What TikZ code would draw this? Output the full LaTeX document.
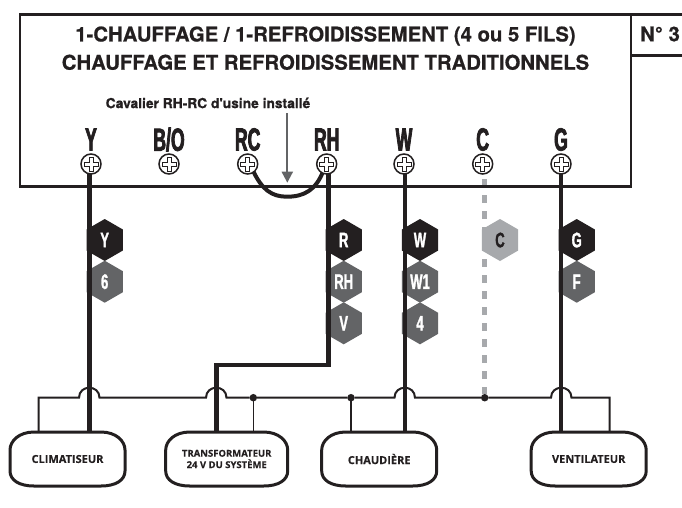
\documentclass[tikz,border=0pt]{standalone}
\usepackage{fontspec}
\setmainfont{TeX Gyre Heros}
\newfontfamily\helv[BoldFeatures={FakeBold=0.6}]{TeX Gyre Heros}
\newfontfamily\tcond[FakeStretch=0.55,FakeBold=2.4]{Liberation Sans Bold}
\newfontfamily\hcond[FakeStretch=0.62,FakeBold=1.4]{Liberation Sans Bold}
\newfontfamily\unitf[BoldFeatures={FakeBold=0.3}]{Open Sans}
\usetikzlibrary{shapes.geometric,calc,arrows.meta}
\definecolor{ink}{HTML}{231F20}
\definecolor{midgrey}{HTML}{636466}
\definecolor{lightgrey}{HTML}{A7A9AC}
\newcommand{\bolabel}{B/O}
\pgfdeclarelayer{hexes}
\pgfdeclarelayer{wires}
\pgfsetlayers{hexes,wires,main}
\tikzset{
  frame/.style={draw=ink,line width=2.4pt},
  wire/.style={draw=ink,line width=4.6pt,line join=miter},
  cwire/.style={draw=lightgrey,line width=5.2pt,dash pattern=on 7.5pt off 8.5pt},
  jumper/.style={draw=ink,line width=4pt},
  bus/.style={draw=ink,line width=2pt},
  branch/.style={draw=ink,line width=1.6pt},
  junction/.style={circle,fill=ink,minimum size=7.5pt,inner sep=0pt,outer sep=0pt},
  hexa/.style={regular polygon,regular polygon sides=6,shape border rotate=30,minimum size=42pt,inner sep=0pt,outer sep=0pt,text=white,font=\hcond\fontsize{21}{21}\selectfont},
  hexblack/.style={hexa,fill=ink},
  hexgrey/.style={hexa,fill=midgrey},
  hexlight/.style={hexa,fill=lightgrey,text=ink},
  screw/.style={circle,draw=ink,line width=1.5pt,fill=white,minimum size=20pt,inner sep=0pt,outer sep=0pt,
    path picture={\draw[ink,line width=.55pt] (path picture bounding box.center)
      +(-2,-7)--+(2,-7)--+(2,-2)--+(7,-2)--+(7,2)--+(2,2)--+(2,7)--+(-2,7)--+(-2,2)--+(-7,2)--+(-7,-2)--+(-2,-2)--cycle;}},
  termlabel/.style={text=ink,font=\tcond\fontsize{32}{32}\selectfont,inner sep=0pt},
  titletext/.style={text=ink,font=\helv\bfseries\fontsize{20.3}{20.3}\selectfont,inner sep=0pt},
  unitnode/.style={minimum height=54pt,inner sep=0pt,outer sep=0pt,align=center,text=ink,font=\unitf\bfseries\fontsize{11}{12}\selectfont},
}
\newcommand{\unitoutline}[1]{%
  \draw[draw=ink,line width=3pt]
    ($(#1.north west)+(24,0)$) -- ($(#1.north east)+(-24,0)$)
    .. controls +(15,0) and +(0,-9) .. ($(#1.north east)+(0,18)$)
    -- ($(#1.south east)+(0,-15)$)
    .. controls +(0,9) and +(15,0) .. ($(#1.south east)+(-24,0)$)
    -- ($(#1.south west)+(24,0)$)
    .. controls +(-15,0) and +(0,9) .. ($(#1.south west)+(0,-15)$)
    -- ($(#1.north west)+(0,18)$)
    .. controls +(0,-9) and +(-15,0) .. cycle;}
\begin{document}
\begin{tikzpicture}[x=1pt,y=-1pt]
\useasboundingbox (0,0) rectangle (682,507);
\begin{pgfonlayer}{hexes}
\fill[white] (0,0) rectangle (682,507);
\end{pgfonlayer}
% frame
\draw[frame] (631,14.5) -- (19.8,14.5) -- (19.8,186.5) -- (631,186.5) -- cycle;
\draw[frame] (631,14.5) -- (682,14.5);
\draw[frame] (631,55.5) -- (682,55.5);
% titles
\node[titletext] (t1) at (325.5,36) {1-CHAUFFAGE / 1-REFROIDISSEMENT (4 ou 5 FILS)};
\node[titletext] (t2) at (325.5,62.3) {CHAUFFAGE ET REFROIDISSEMENT TRADITIONNELS};
\node[titletext] (num) at (660,34) {N° 3};
\node[text=ink,inner sep=0pt,font=\helv\bfseries\fontsize{13.8}{13.8}\selectfont] (cav) at (208,103) {Cavalier RH-RC d'usine installé};
% terminals
\foreach \n/\t/\x in {Y/Y/91,BO/\bolabel/169,RC/RC/247.7,RH/RH/326.7,W/W/404,C/C/482.7,G/G/561}{
  \node[screw] (s\n) at (\x,164) {};
  \node[termlabel] (l\n) at (\x,139.5) {\t};
}
% units
\node[unitnode,minimum width=115pt] (uClim) at (67.5,459) {CLIMATISEUR};
\node[unitnode,minimum width=122pt,font=\unitf\bfseries\fontsize{9.5}{11.4}\selectfont] (uTrans) at (226.7,459) {TRANSFORMATEUR\\24 V DU SYSTÈME};
\node[unitnode,minimum width=115pt] (uChau) at (379.2,459) {CHAUDIÈRE};
\node[unitnode,minimum width=115pt] (uVent) at (588.7,459) {VENTILATEUR};
\unitoutline{uClim}\unitoutline{uTrans}\unitoutline{uChau}\unitoutline{uVent}
% junctions
\node[junction] (jA) at (253.3,397.7) {};
\node[junction] (jB) at (351,397.7) {};
\node[junction] (jC) at (484.7,397.7) {};
\coordinate (busL) at (38.7,397.7);
\coordinate (busR) at (609.7,397.7);
\coordinate (bend) at (216.3,365);
\coordinate (arrowEnd) at (287.3,182.7);
% hexagons
\begin{pgfonlayer}{hexes}
\node[hexblack] (hY) at (104.7,240) {Y};
\node[hexgrey] (h6) at (104.7,281.7) {6};
\node[hexblack] (hR) at (343.7,240) {R};
\node[hexgrey] (hRH) at (343.7,281.7) {RH};
\node[hexgrey] (hV) at (343.7,323.3) {V};
\node[hexblack] (hW) at (420,240) {W};
\node[hexgrey] (hW1) at (420,281.7) {W1};
\node[hexgrey] (h4) at (420,323.3) {4};
\node[hexblack] (hG) at (576.7,240) {G};
\node[hexgrey] (hF) at (576.7,281.7) {F};
\end{pgfonlayer}
% wires
\begin{pgfonlayer}{wires}
\draw[wire] ([xshift=-1.5pt]sY.center) -- ([xshift=-1.5pt]sY.center |- uClim.north);
\draw[wire] ([xshift=1.5pt]sRH.center) |- (bend) -- (bend |- uTrans.north);
\draw[wire] ([xshift=1pt]sW.center) -- ([xshift=1pt]sW.center |- uChau.north);
\draw[wire] (sG.center) -- (sG.center |- uVent.north);
\draw[cwire] (jC |- 0,179) -- (jC);
\draw[jumper] ([xshift=5pt,yshift=-6pt]sRC.center) .. controls (262,190) and (272,196.7) .. (287,196.7)
  .. controls (304,196.7) and (316,190) .. ([xshift=-3.5pt,yshift=-7pt]sRH.center);
\draw[bus] (busL |- uClim.north) -- (busL) -- (79,397.7)
  .. controls +(0,-13.3) and +(0,-13.3) .. (99.5,397.7) -- (206,397.7)
  .. controls +(0,-13.3) and +(0,-13.3) .. (226.5,397.7) -- (jA) -- (jB) -- (394.5,397.7)
  .. controls +(0,-13.3) and +(0,-13.3) .. (415,397.7) -- (jC) -- (551,397.7)
  .. controls +(0,-13.3) and +(0,-13.3) .. (571.5,397.7) -- (busR) -- (busR |- uVent.north);
\draw[branch] (jA) -- (jA |- uTrans.north);
\draw[branch] (jB) -- (jB |- uChau.north);
\end{pgfonlayer}
% C hexagon above dashes
\node[hexlight] (hC) at (500,240) {C};
% arrow
\draw[draw=midgrey,line width=2pt,-{Triangle[length=11pt,width=11pt]}] (arrowEnd |- cav.south) ++(0,5) -- (arrowEnd);
\end{tikzpicture}
\end{document}
